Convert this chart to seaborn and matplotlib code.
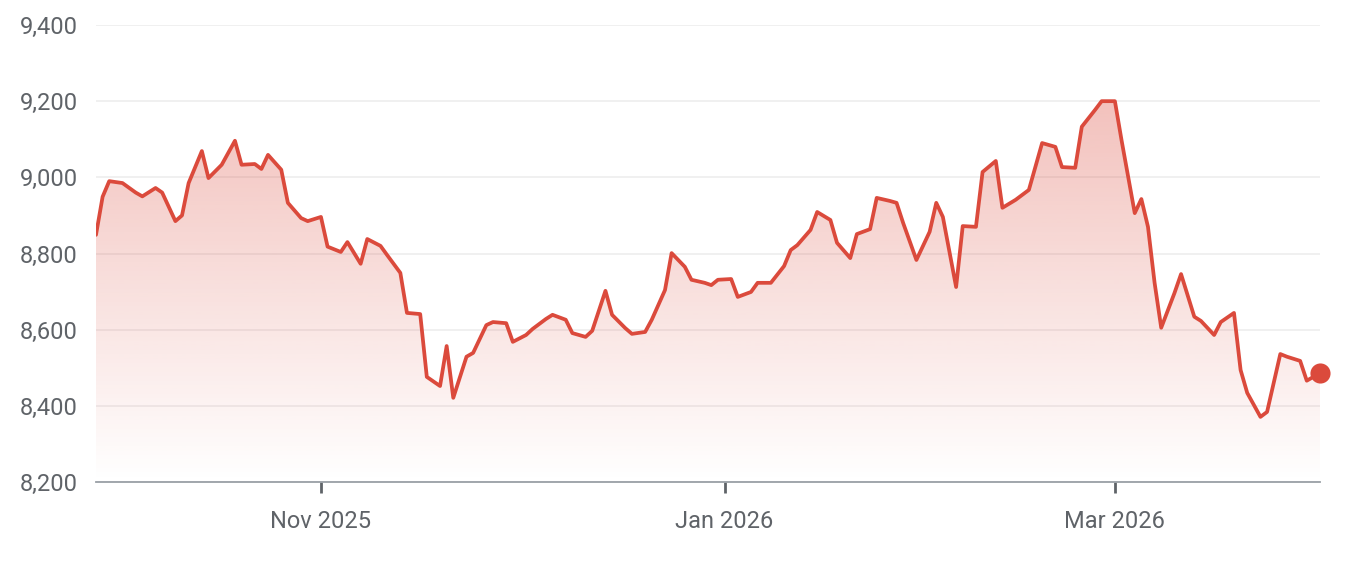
"""
Serie de precios de seis meses: línea roja suavizada con relleno en degradado
"""

import numpy as np
import pandas as pd
import matplotlib
matplotlib.use("Agg")
import matplotlib.pyplot as plt
import matplotlib.dates as mdates
from matplotlib.colors import to_rgb
from matplotlib.ticker import FuncFormatter
import seaborn as sns

# Datos
dates = [
    "2025-09-28", "2025-09-29", "2025-09-30", "2025-10-02", "2025-10-04",
    "2025-10-05", "2025-10-07", "2025-10-08", "2025-10-10", "2025-10-11",
    "2025-10-12", "2025-10-14", "2025-10-15", "2025-10-17", "2025-10-19",
    "2025-10-20", "2025-10-22", "2025-10-23", "2025-10-24", "2025-10-26",
    "2025-10-27", "2025-10-29", "2025-10-30", "2025-11-01", "2025-11-02",
    "2025-11-04", "2025-11-05", "2025-11-07", "2025-11-08", "2025-11-10",
    "2025-11-11", "2025-11-13", "2025-11-14", "2025-11-16", "2025-11-17",
    "2025-11-19", "2025-11-20", "2025-11-21", "2025-11-23", "2025-11-24",
    "2025-11-26", "2025-11-27", "2025-11-29", "2025-11-30", "2025-12-02",
    "2025-12-03", "2025-12-05", "2025-12-06", "2025-12-08", "2025-12-09",
    "2025-12-11", "2025-12-12", "2025-12-14", "2025-12-15", "2025-12-17",
    "2025-12-18", "2025-12-20", "2025-12-21", "2025-12-23", "2025-12-24",
    "2025-12-26", "2025-12-27", "2025-12-29", "2025-12-30", "2025-12-31",
    "2026-01-02", "2026-01-03", "2026-01-05", "2026-01-06", "2026-01-08",
    "2026-01-10", "2026-01-11", "2026-01-12", "2026-01-14", "2026-01-15",
    "2026-01-17", "2026-01-18", "2026-01-20", "2026-01-21", "2026-01-23",
    "2026-01-24", "2026-01-26", "2026-01-27", "2026-01-28", "2026-01-30",
    "2026-02-01", "2026-02-02", "2026-02-03", "2026-02-05", "2026-02-06",
    "2026-02-08", "2026-02-09", "2026-02-11", "2026-02-12", "2026-02-14",
    "2026-02-16", "2026-02-18", "2026-02-20", "2026-02-21", "2026-02-23",
    "2026-02-24", "2026-02-26", "2026-02-27", "2026-03-01", "2026-03-02",
    "2026-03-04", "2026-03-05", "2026-03-06", "2026-03-07", "2026-03-08",
    "2026-03-10", "2026-03-11", "2026-03-13", "2026-03-14", "2026-03-16",
    "2026-03-17", "2026-03-19", "2026-03-20", "2026-03-21", "2026-03-23",
    "2026-03-24", "2026-03-26", "2026-03-27", "2026-03-29", "2026-03-30",
    "2026-04-01",
]
values = [
    8849, 8949, 8990, 8985, 8960,
    8950, 8972, 8960, 8885, 8900,
    8985, 9069, 8998, 9033, 9096,
    9033, 9035, 9022, 9059, 9020,
    8933, 8893, 8885, 8896, 8818,
    8804, 8830, 8773, 8838, 8820,
    8796, 8749, 8644, 8641, 8476,
    8452, 8557, 8421, 8529, 8539,
    8612, 8620, 8617, 8568, 8586,
    8602, 8628, 8639, 8626, 8591,
    8581, 8597, 8702, 8639, 8604,
    8589, 8594, 8626, 8704, 8801,
    8765, 8731, 8723, 8717, 8731,
    8733, 8686, 8699, 8723, 8723,
    8767, 8809, 8822, 8862, 8909,
    8888, 8828, 8788, 8851, 8864,
    8946, 8938, 8933, 8880, 8783,
    8857, 8933, 8896, 8712, 8872,
    8870, 9014, 9043, 8920, 8941,
    8967, 9090, 9080, 9027, 9025,
    9133, 9177, 9200, 9200, 9098,
    8906, 8943, 8870, 8723, 8605,
    8696, 8746, 8634, 8623, 8586,
    8620, 8644, 8494, 8434, 8371,
    8384, 8536, 8529, 8518, 8466,
    8486,
]

y_ticks = [8200, 8400, 8600, 8800, 9000, 9200, 9400]
x_tick_dates = ["2025-11-01", "2026-01-01", "2026-03-01"]
x_tick_labels = ["Nov 2025", "Jan 2026", "Mar 2026"]

LINE = "#db4a3c"
TEXT = "#5f6368"
GRID = "#ececec"
AXIS = "#9aa0a6"

sns.set_theme(style="white")
plt.rcParams["font.family"] = ["Roboto", "DejaVu Sans"]

df = pd.DataFrame({"date": pd.to_datetime(dates), "value": values})
xn = mdates.date2num(df["date"])

fig = plt.figure(figsize=(13.48, 5.72), dpi=100)
ax = fig.add_axes([96 / 1348, 1 - 482 / 572, 1224 / 1348, 457 / 572])

# Línea principal
sns.lineplot(data=df, x="date", y="value", ax=ax, color=LINE, lw=2.7,
             zorder=3, solid_joinstyle="round", solid_capstyle="round")

# Relleno en degradado recortado bajo la curva
poly = ax.fill_between(xn, df["value"], y_ticks[0], color="none", lw=0)
grad = np.zeros((256, 1, 4))
grad[..., :3] = to_rgb(LINE)
grad[:, 0, 3] = np.linspace(0.34, 0.0, 256)
img = ax.imshow(grad, extent=[xn[0], xn[-1], y_ticks[0], df["value"].max()],
                aspect="auto", origin="upper", zorder=1, interpolation="bilinear")
img.set_clip_path(poly.get_paths()[0], transform=ax.transData)

# Punto final
ax.scatter(xn[-1:], df["value"].iloc[-1:], s=210, color=LINE, zorder=4,
           clip_on=False, linewidths=0)

ax.set_xlim(xn[0], xn[-1])
ax.set_ylim(y_ticks[0], y_ticks[-1])
ax.set_yticks(y_ticks)
ax.yaxis.set_major_formatter(FuncFormatter(lambda v, _: f"{v:,.0f}"))
ax.set_xticks(mdates.date2num(pd.to_datetime(x_tick_dates)))
ax.set_xticklabels(x_tick_labels)

ax.grid(axis="y", color=GRID, lw=1.1, zorder=0)
ax.grid(axis="x", visible=False)
for side in ["top", "right", "left"]:
    ax.spines[side].set_visible(False)
ax.spines["bottom"].set_color(AXIS)
ax.spines["bottom"].set_linewidth(1.3)

ax.tick_params(axis="y", length=0, pad=13, labelsize=17, labelcolor=TEXT)
ax.tick_params(axis="x", length=8, width=2, color=TEXT, pad=12,
               labelsize=17, labelcolor=TEXT, bottom=True)
ax.set_xlabel("")
ax.set_ylabel("")

fig.savefig("out.png", dpi=100)
